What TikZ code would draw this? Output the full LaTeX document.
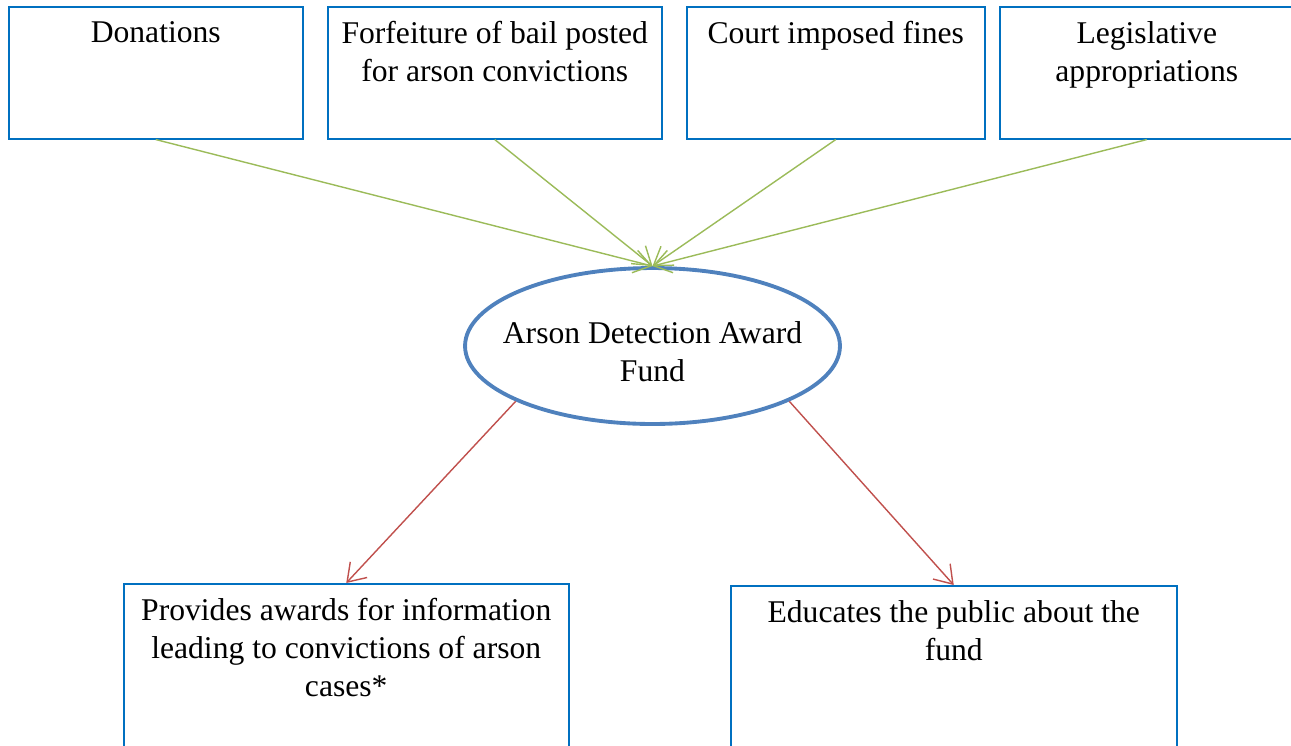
\documentclass[tikz,border=0pt]{standalone}
\usepackage{fontspec}
\setmainfont{Liberation Serif}
\usetikzlibrary{arrows.meta,positioning,shapes.geometric}
\definecolor{boxBlue}{RGB}{0,112,192}
\definecolor{fundBlue}{RGB}{79,129,189}
\definecolor{srcGreen}{RGB}{155,187,89}
\definecolor{useRed}{RGB}{192,80,77}

\begin{document}
\begin{tikzpicture}[x=0.02cm,y=-0.02cm,
        box/.style={draw=boxBlue,line width=0.9pt,fill=white,anchor=north west,inner sep=0pt,minimum height=2.64cm},
        boxtext/.style={anchor=north,align=center,inner sep=0pt,font=\fontsize{18}{21.5}\selectfont},
        fund/.style={ellipse,draw=fundBlue,line width=2.2pt,minimum width=7.5cm,minimum height=3.12cm,inner sep=0pt},
        inarrow/.style={-{Straight Barb[length=3.4mm,width=4.6mm]},draw=srcGreen,line width=0.8pt},
        outarrow/.style={-{Straight Barb[length=3.4mm,width=4.6mm]},draw=useRed,line width=0.8pt}
      ]
        \clip (0,0) rectangle (1291,745);
        % sources of money
        \node[box,minimum width=5.88cm] (don) at (8,6) {};
        \node[box,minimum width=6.68cm] (bail) at (327,6) {};
        \node[box,minimum width=5.96cm] (fines) at (686,6) {};
        \node[box,minimum width=5.88cm] (leg) at (999,6) {};
        \node[boxtext,below=0.3cm of don.north] (dontext) {Donations};
        \node[boxtext,below=0.3cm of bail.north] (bailtext) {Forfeiture of bail posted\\for arson convictions};
        \node[boxtext,below=0.3cm of fines.north] (finestext) {Court imposed fines};
        \node[boxtext,below=0.3cm of leg.north] (legtext) {Legislative\\appropriations};
        % the fund
        \node[fund] (fund) at (652.5,346) {};
        \node[boxtext,anchor=center] (fundtext) at (652.5,352) {Arson Detection Award\\Fund};
        % uses of the fund
        \node[box,minimum width=8.9cm,minimum height=3.6cm] (prov) at (123,583) {};
        \node[box,minimum width=8.92cm,minimum height=3.6cm] (edu) at (730,585) {};
        \node[boxtext,below=0.3cm of prov.north] (provtext) {Provides awards for information\\leading to convictions of arson\\cases*};
        \node[boxtext,below=0.3cm of edu.north] (edutext) {Educates the public about the\\fund};
        \foreach \src in {don,bail,fines,leg}
          \draw[inarrow] (\src.south) -- (fund.north);
        \draw[outarrow] (fund.202) -- (prov.north);
        \draw[outarrow] (fund.338) -- (edu.north);
      \end{tikzpicture}
\end{document}
